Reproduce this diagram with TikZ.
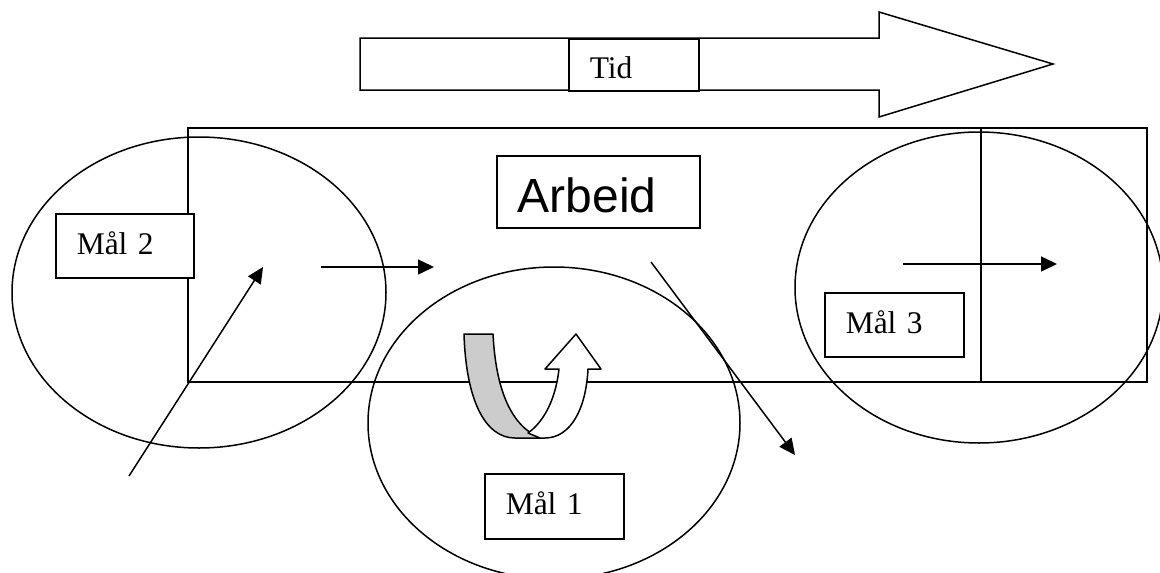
\documentclass[tikz,border=0pt]{standalone}
\usepackage{fontspec}
\setmainfont{Liberation Serif}
\newfontfamily\arialfont{Liberation Sans}
\usetikzlibrary{arrows.meta,shapes.geometric}

\begin{document}
\begin{tikzpicture}[x=1pt,y=-1pt,line width=1.5pt,
  goal/.style={draw,ellipse,inner sep=0pt},
  frame/.style={draw,rectangle,anchor=north west,inner sep=0pt},
  tagbox/.style={draw,fill=white,rectangle,anchor=north west,inner sep=0pt,
    inner xsep=21pt,align=left,text depth=0pt,
    font=\fontsize{31.5}{36}\selectfont},
  arr/.style={-{Triangle[length=16pt,width=15pt]}},
  ribbon/.style={draw,line join=round}
]
\useasboundingbox (0,0) rectangle (1160,573);

% goal areas
\node[goal,minimum width=374pt,minimum height=311pt] (goalL) at (199,292.5) {};
\node[goal,minimum width=372pt,minimum height=312pt] (goalM) at (554,423) {};
\node[goal,minimum width=368pt,minimum height=311pt] (goalR) at (979,287.5) {};

% work area
\node[frame,minimum width=793pt,minimum height=254pt] (work) at (187,127) {};
\node[frame,minimum width=166pt,minimum height=254pt] (workend) at (980,127) {};

% time arrow
\draw (360,38) -- (879,38) -- (879,12) -- (1053,64) -- (879,117)
      -- (879,90) -- (360,90) -- cycle;

% turning ribbon
\draw[ribbon,fill=black!20] (464,334) -- (493,334)
  .. controls (496,392) and (512,426) .. (540,438) -- (515,438)
  .. controls (485,438) and (466,400) .. cycle;
\draw[ribbon,fill=white] (528,433)
  .. controls (546,420) and (556,396) .. (559,369) -- (545,369)
  -- (576,334) -- (601,369) -- (588,369)
  .. controls (586,410) and (570,438) .. (545,438) -- (540,438) -- cycle;

% labels
\node[tagbox,text width=88pt,minimum height=52pt,text height=28pt] (tid) at (568,38) {Tid};
\node[tagbox,text width=161pt,minimum height=72pt,text height=42pt,
      font=\arialfont\fontsize{48}{56}\selectfont] (arbeid) at (496,155) {Arbeid};
\node[tagbox,text width=96pt,minimum height=64pt,text height=18pt] (maal2) at (55,213) {Mål 2};
\node[tagbox,text width=97pt,minimum height=65pt,text height=17pt] (maal1) at (484,473) {Mål 1};
\node[tagbox,text width=97pt,minimum height=64pt,text height=18pt] (maal3) at (824,292) {Mål 3};

% movement arrows
\coordinate (a1s) at (129,476);
\coordinate (a1e) at (263,267);
\coordinate (a2s) at (321,267);
\coordinate (a2e) at (434,267);
\coordinate (a3s) at (651,262);
\coordinate (a3e) at (795,455);
\coordinate (a4s) at (903,264);
\coordinate (a4e) at (1057,264);
\draw[arr] (a1s) -- (a1e);
\draw[arr] (a2s) -- (a2e);
\draw[arr] (a3s) -- (a3e);
\draw[arr] (a4s) -- (a4e);
\end{tikzpicture}
\end{document}
